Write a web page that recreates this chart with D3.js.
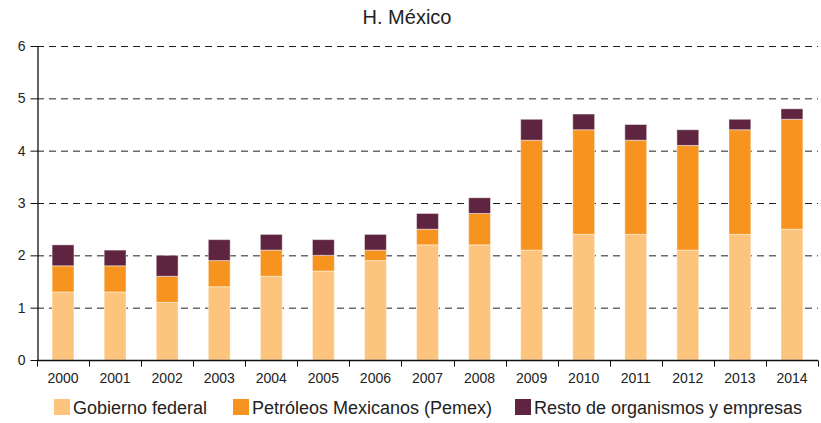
<!DOCTYPE html>
<html>
<head>
<meta charset="utf-8">
<script src="https://cdn.jsdelivr.net/npm/d3@7"></script>
<style>
  body { margin: 0; background: #fff; }
  svg { display: block; font-family: "Liberation Sans", Arial, sans-serif; }
</style>
</head>
<body>
<svg id="chart" width="821" height="423"></svg>
<script>
// Deuda por emisor, H. México (stacked by issuer)
const years = ["2000","2001","2002","2003","2004","2005","2006","2007","2008","2009","2010","2011","2012","2013","2014"];
const gobiernoFederal = [1.3, 1.3, 1.1, 1.4, 1.6, 1.7, 1.9, 2.2, 2.2, 2.1, 2.4, 2.4, 2.1, 2.4, 2.5];
const pemex           = [0.5, 0.5, 0.5, 0.5, 0.5, 0.3, 0.2, 0.3, 0.6, 2.1, 2.0, 1.8, 2.0, 2.0, 2.1];
const resto           = [0.4, 0.3, 0.4, 0.4, 0.3, 0.3, 0.3, 0.3, 0.3, 0.4, 0.3, 0.3, 0.3, 0.2, 0.2];
const seriesNames = ["Gobierno federal", "Petróleos Mexicanos (Pemex)", "Resto de organismos y empresas"];
const seriesColors = ["#FCC47C", "#F7941F", "#5F2540"];
const yTicks = [0, 1, 2, 3, 4, 5, 6];
const title = "H. México";

const rows = years.map((y, i) => ({ year: y, s0: gobiernoFederal[i], s1: pemex[i], s2: resto[i] }));
const keys = ["s0", "s1", "s2"];

const svg = d3.select("#chart");
const plotLeft = 37, plotRight = 818, plotTop = 46, plotBottom = 360;

const x = d3.scaleBand().domain(years).range([plotLeft, plotRight]).paddingInner(0.58).paddingOuter(0.29);
const y = d3.scaleLinear().domain([0, 6]).range([plotBottom, plotTop]);

// Title
svg.append("text")
  .attr("x", 407).attr("y", 24)
  .attr("text-anchor", "middle")
  .attr("font-size", 20)
  .attr("fill", "#222")
  .text(title);

// Dashed gridlines
svg.append("g")
  .selectAll("line")
  .data(yTicks.filter(d => d > 0))
  .join("line")
  .attr("x1", plotLeft).attr("x2", plotRight)
  .attr("y1", d => y(d) + 0.5).attr("y2", d => y(d) + 0.5)
  .attr("stroke", "#222")
  .attr("stroke-width", 1)
  .attr("stroke-dasharray", "7,5");

// Stacked bars
const stack = d3.stack().keys(keys)(rows);
svg.append("g")
  .selectAll("g")
  .data(stack)
  .join("g")
  .attr("fill", (d, i) => seriesColors[i])
  .selectAll("rect")
  .data(d => d)
  .join("rect")
  .attr("x", d => x(d.data.year))
  .attr("width", x.bandwidth())
  .attr("y", d => y(d[1]))
  .attr("height", d => y(d[0]) - y(d[1]))
  .attr("stroke", "rgba(255,255,255,0.45)")
  .attr("stroke-width", 1);

// Y axis
const yAxis = svg.append("g")
  .attr("transform", `translate(${plotLeft + 0.5},0)`)
  .call(d3.axisLeft(y).tickValues(yTicks).tickFormat(d3.format("d")).tickSize(7).tickSizeOuter(0).tickPadding(5));
yAxis.select(".domain").attr("stroke", "#111").attr("stroke-width", 1.3);
yAxis.selectAll(".tick line").attr("stroke", "#111");
yAxis.selectAll("text").attr("font-size", 14).attr("fill", "#222")
  .attr("font-family", "'Liberation Sans', Arial, sans-serif");

// X axis: ticks at band boundaries
const xAxisG = svg.append("g").attr("transform", `translate(0,${plotBottom + 0.5})`);
xAxisG.append("line")
  .attr("x1", plotLeft).attr("x2", plotRight)
  .attr("stroke", "#111").attr("stroke-width", 1.3);
const step = x.step();
const boundaries = years.map(yr => x(yr) - (step - x.bandwidth()) / 2).concat([plotRight]);
xAxisG.selectAll("line.tk")
  .data(boundaries)
  .join("line")
  .attr("class", "tk")
  .attr("x1", d => Math.round(d) + 0.5).attr("x2", d => Math.round(d) + 0.5)
  .attr("y1", 0).attr("y2", 6)
  .attr("stroke", "#111");
xAxisG.selectAll("text")
  .data(years)
  .join("text")
  .attr("x", d => x(d) + x.bandwidth() / 2)
  .attr("y", 22)
  .attr("text-anchor", "middle")
  .attr("font-size", 14)
  .attr("fill", "#222")
  .text(d => d);

// Legend
const legendItems = [
  { name: seriesNames[0], color: seriesColors[0], x: 54 },
  { name: seriesNames[1], color: seriesColors[1], x: 233 },
  { name: seriesNames[2], color: seriesColors[2], x: 515 }
];
const lg = svg.append("g");
const li = lg.selectAll("g").data(legendItems).join("g")
  .attr("transform", d => `translate(${d.x},399)`);
li.append("rect").attr("width", 16).attr("height", 16).attr("fill", d => d.color);
li.append("text")
  .attr("x", 19).attr("y", 15)
  .attr("font-size", 18)
  .attr("fill", "#222")
  .text(d => d.name);
</script>
</body>
</html>
